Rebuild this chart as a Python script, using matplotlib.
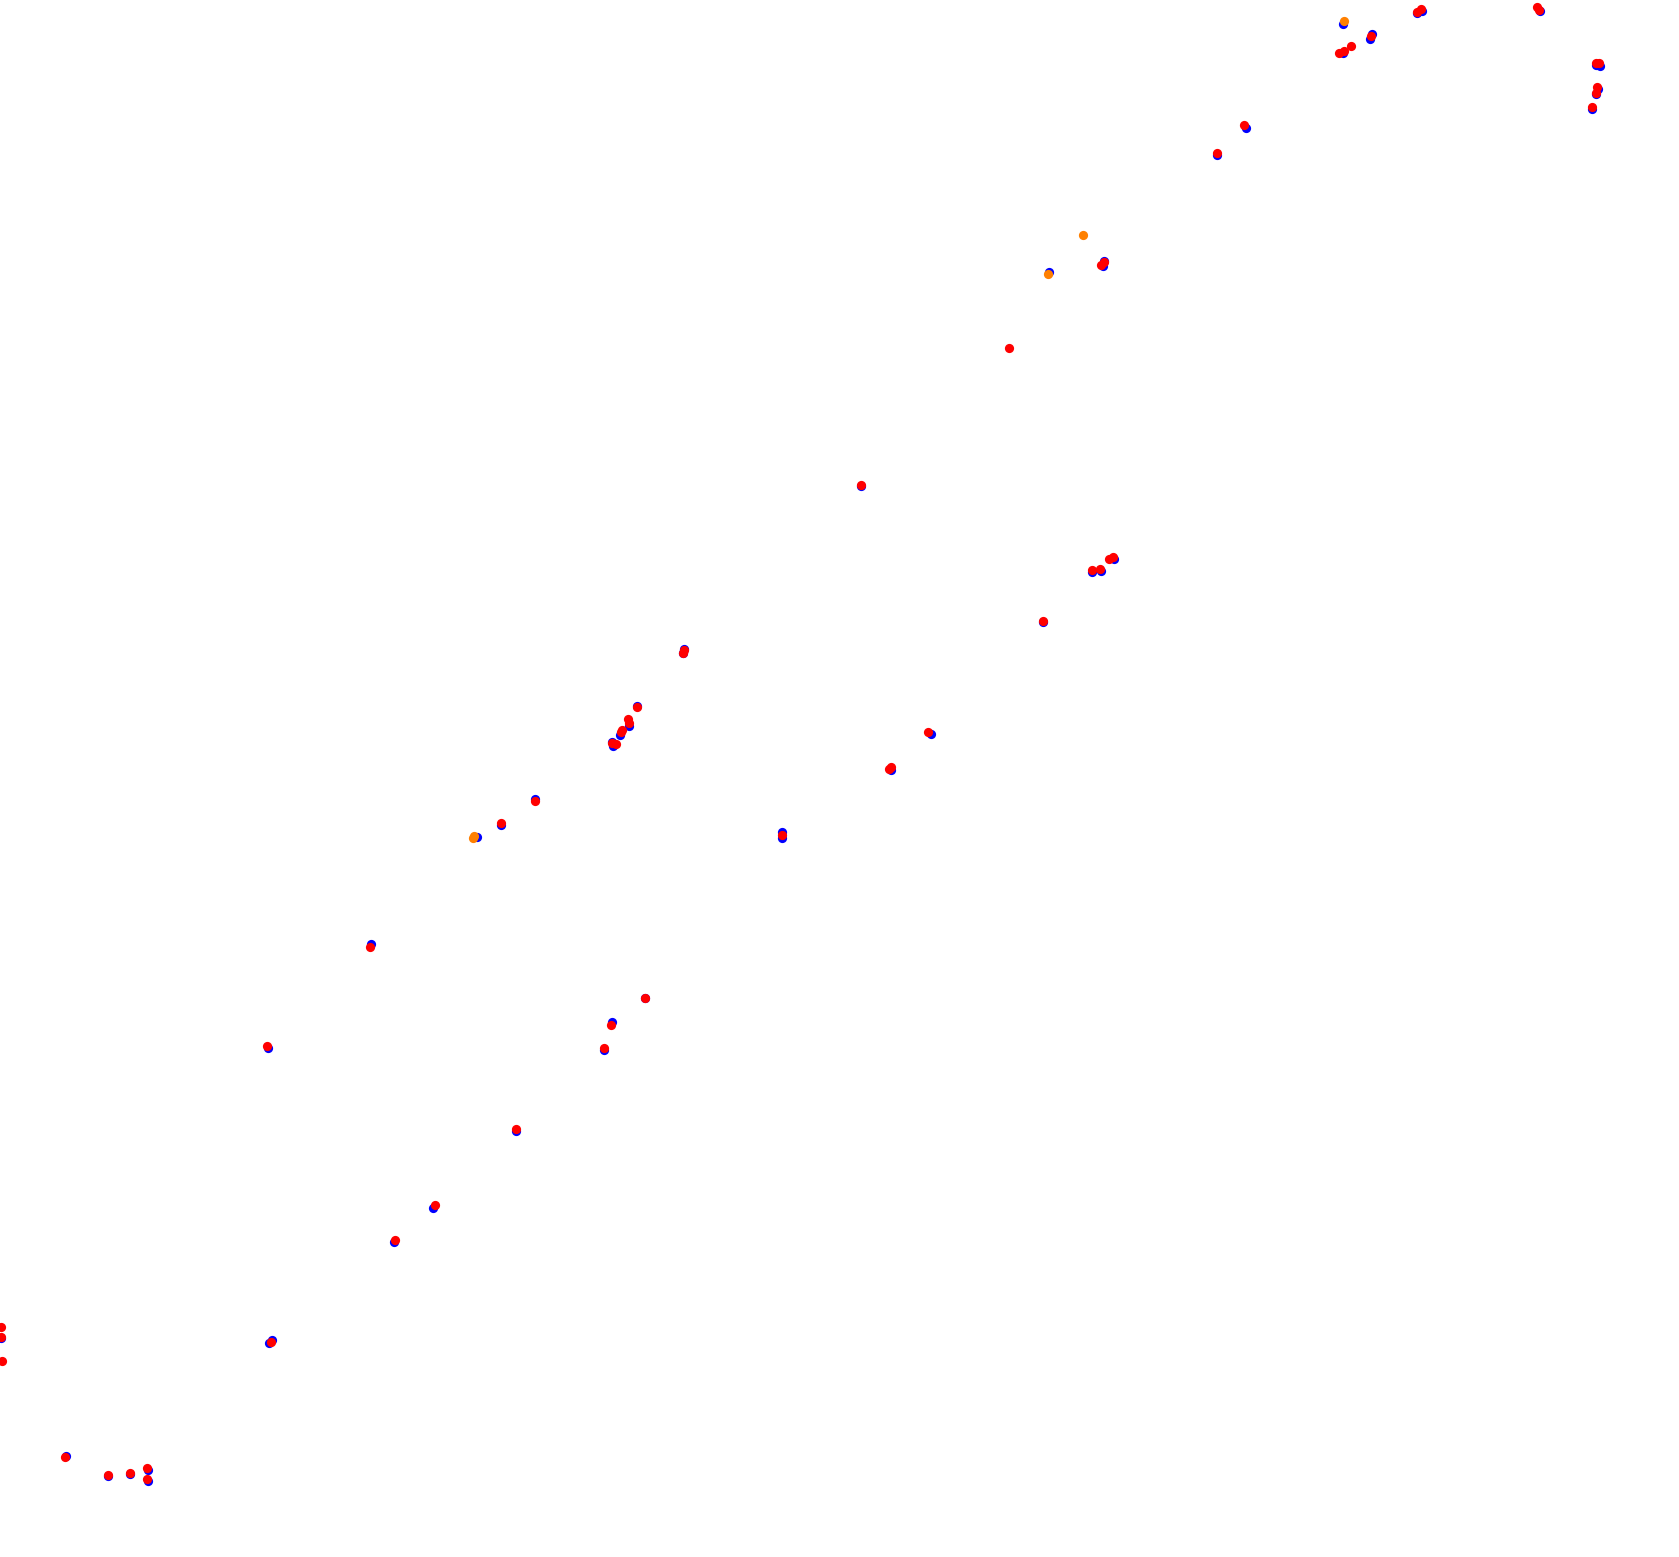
import matplotlib
matplotlib.use("Agg")
import matplotlib.pyplot as plt

# positions in image pixel units (x right, y down)
blue_x = [1343, 1343, 1372, 1370, 1417, 1422, 1540, 1600, 1596, 1598, 1596, 1592,
          1246, 1217, 1049, 1103, 1104, 861, 1114, 1092, 1101, 1043, 684, 683,
          637, 629, 620, 612, 613, 535, 501, 477, 931, 891, 782, 782,
          371, 645, 612, 604, 268, 516, 433, 394, 272, 269, 1,
          66, 108, 130, 148, 148]
blue_y = [24, 53, 34, 39, 13, 11, 11, 66, 65, 89, 94, 109,
          128, 155, 272, 266, 261, 486, 559, 572, 571, 622, 649, 653,
          706, 726, 735, 742, 746, 799, 825, 837, 734, 770, 832, 838,
          944, 998, 1022, 1050, 1048, 1131, 1208, 1242, 1340, 1343, 1338,
          1456, 1476, 1474, 1470, 1481]

red_x = [1339, 1344, 1351, 1371, 1417, 1421, 1537, 1539, 1596, 1599, 1597, 1596, 1592,
         1244, 1217, 1101, 1104, 1009, 861, 1113, 1109, 1092, 1100, 1043,
         684, 683, 637, 628, 629, 622, 621, 612, 616, 535, 501,
         928, 891, 889, 782, 370, 645, 611, 604, 267, 516, 435, 395, 271,
         1, 1, 2, 65, 108, 130, 147, 147]
red_y = [53, 51, 46, 36, 12, 9, 7, 10, 63, 63, 87, 93, 107,
         125, 153, 265, 262, 348, 485, 557, 559, 570, 569, 621,
         650, 653, 707, 719, 723, 730, 732, 743, 744, 801, 823,
         732, 767, 769, 835, 947, 998, 1025, 1048, 1046, 1129, 1205, 1240, 1342,
         1327, 1337, 1361, 1457, 1475, 1473, 1468, 1479]

orange_x = [1344, 1083, 1048, 474, 473]
orange_y = [21, 235, 274, 836, 838]

fig = plt.figure(figsize=(16.79, 15.57), dpi=100)
ax = fig.add_axes([0, 0, 1, 1])
ax.scatter(blue_x, blue_y, s=44, c='#0000ff', linewidths=0)
ax.scatter(red_x, red_y, s=44, c='#ff0000', linewidths=0)
ax.scatter(orange_x, orange_y, s=44, c='#ff8000', linewidths=0)
ax.set_xlim(0, 1679)
ax.set_ylim(1557, 0)
ax.axis('off')
fig.savefig('out.png', dpi=100)
